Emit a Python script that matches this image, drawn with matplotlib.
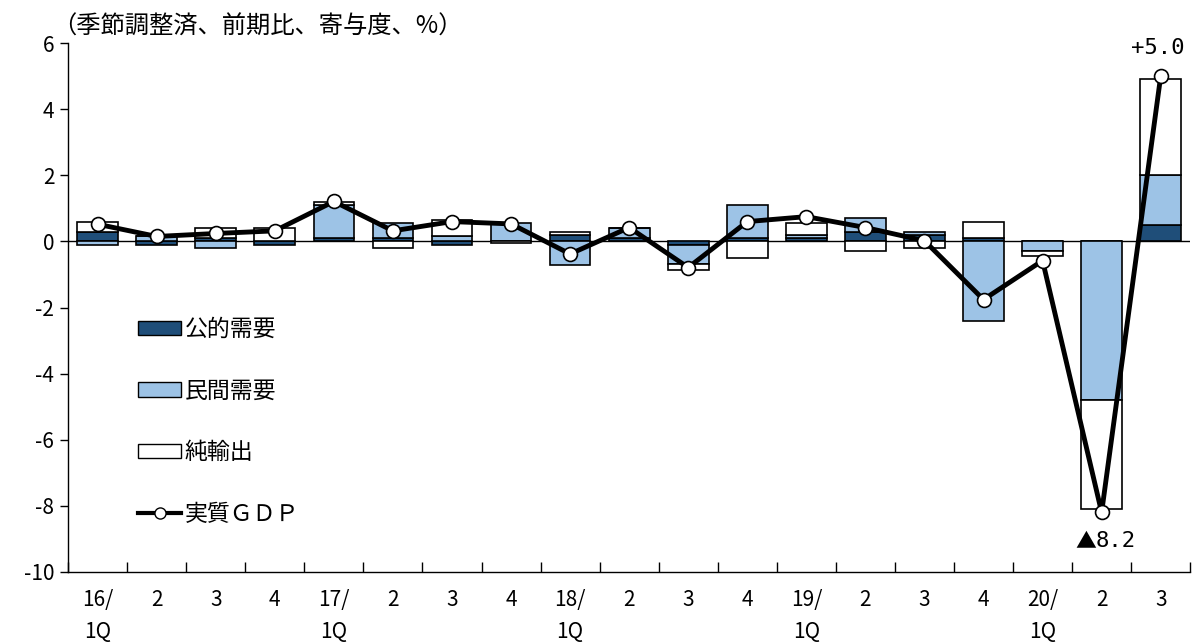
import matplotlib
matplotlib.use("Agg")
import numpy as np
import matplotlib.pyplot as plt
from matplotlib.patches import Patch
from matplotlib.lines import Line2D

plt.rcParams['font.family'] = ['Noto Sans CJK JP', 'DejaVu Sans']
plt.rcParams['axes.unicode_minus'] = False

# quarters 2016Q1 - 2020Q3
quarters = ["16/\n1Q", "2", "3", "4", "17/\n1Q", "2", "3", "4", "18/\n1Q", "2",
            "3", "4", "19/\n1Q", "2", "3", "4", "20/\n1Q", "2", "3"]

# contributions to q/q growth (% pt)
public_demand = [0.3, -0.1, 0.1, -0.1, 0.1, 0.1, -0.1, 0.0, 0.2, 0.1,
                 -0.1, 0.1, 0.1, 0.3, 0.2, 0.1, 0.0, 0.0, 0.5]
private_demand = [-0.1, 0.15, -0.2, 0.0, 1.0, 0.45, 0.15, 0.55, -0.7, 0.3,
                  -0.58, 1.0, 0.1, 0.4, 0.1, -2.4, -0.28, -4.8, 1.5]
net_exports = [0.3, 0.0, 0.3, 0.4, 0.1, -0.2, 0.5, -0.05, 0.1, 0.0,
               -0.2, -0.5, 0.35, -0.3, -0.2, 0.5, -0.15, -3.3, 2.9]
real_gdp = [0.52, 0.15, 0.24, 0.32, 1.21, 0.32, 0.6, 0.53, -0.38, 0.42,
            -0.79, 0.6, 0.75, 0.42, 0.02, -1.76, -0.58, -8.2, 5.0]

c_public = "#1f4e79"
c_private = "#9dc3e6"
c_net = "white"

fig = plt.figure(figsize=(11.95, 6.44), dpi=100)
ax = fig.add_axes([0.057, 0.112, 0.939, 0.821])

x = np.arange(len(quarters))
width = 0.69

# stack positives upward and negatives downward, in series order
pos_base = np.zeros(len(x))
neg_base = np.zeros(len(x))
for vals, col in [(public_demand, c_public), (private_demand, c_private), (net_exports, c_net)]:
    v = np.array(vals, dtype=float)
    base = np.where(v >= 0, pos_base, neg_base)
    ax.bar(x, v, width, bottom=base, color=col, edgecolor="black", linewidth=1.2, zorder=2)
    pos_base += np.where(v >= 0, v, 0)
    neg_base += np.where(v < 0, v, 0)

ax.axhline(0, color="black", linewidth=1.0, zorder=1.5)

ax.plot(x, real_gdp, color="black", linewidth=3.5, marker="o", markersize=10,
        markerfacecolor="white", markeredgecolor="black", markeredgewidth=1.2, zorder=4)

# value labels on the last two quarters
mono = ['DejaVu Sans Mono', 'Noto Sans CJK JP']
ax.text(x[-1] - 0.05, real_gdp[-1] + 0.55, "+5.0", ha="center", va="bottom",
        fontsize=16, family=mono)
ax.annotate("8.2", (x[-2], real_gdp[-2] - 0.55), xytext=(-4, 0), textcoords="offset points",
            ha="left", va="top", fontsize=16, family=mono)
ax.annotate("▲", (x[-2], real_gdp[-2] - 0.55), xytext=(-4, 0), textcoords="offset points",
            ha="right", va="top", fontsize=15, family=['Noto Sans CJK JP'])

ax.set_xlim(-0.5, len(x) - 0.5)
ax.set_ylim(-10, 6)
ax.set_yticks(np.arange(-10, 7, 2))
ax.set_xticks(x)
ax.set_xticklabels(quarters, fontsize=15, linespacing=1.6, va="top")
ax.set_xticks(np.arange(-0.5, len(x), 1), minor=True)
ax.tick_params(axis="x", which="major", length=0, pad=12)
ax.tick_params(axis="x", which="minor", direction="in", length=7, width=1)
ax.tick_params(axis="y", direction="out", length=6, width=1, labelsize=15, pad=4)
for s in ["top", "right"]:
    ax.spines[s].set_visible(False)
for s in ["left", "bottom"]:
    ax.spines[s].set_linewidth(1.0)

fig.text(0.044, 0.958, "（季節調整済、前期比、寄与度、%）", fontsize=17.5, ha="left", va="center")

handles = [
    Patch(facecolor=c_public, edgecolor="black", linewidth=1.0),
    Patch(facecolor=c_private, edgecolor="black", linewidth=1.0),
    Patch(facecolor=c_net, edgecolor="black", linewidth=1.0),
    Line2D([0], [0], color="black", linewidth=3, marker="o", markersize=8,
           markerfacecolor="white", markeredgecolor="black"),
]
labels = ["公的需要", "民間需要", "純輸出", "実質ＧＤＰ"]
ax.legend(handles, labels, loc="lower left", bbox_to_anchor=(0.052, 0.066),
          frameon=False, fontsize=16.5, handlelength=1.9, handleheight=0.6,
          handletextpad=0.15, labelspacing=1.68, borderpad=0)

fig.savefig("out.png", dpi=100)
